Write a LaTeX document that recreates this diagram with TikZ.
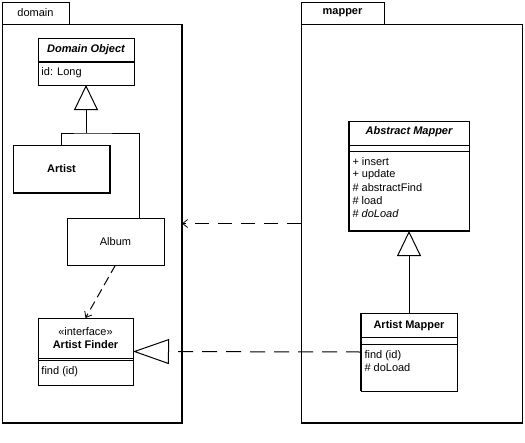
\documentclass[tikz,border=0pt]{standalone}
\usepackage{fontspec}
\setmainfont{Liberation Sans}
\usetikzlibrary{arrows.meta}
\begin{document}
\begin{tikzpicture}[x=1pt,y=-1pt,line width=1pt,
    box/.style={draw,fill=white,inner sep=0pt,outer sep=0pt,anchor=north west},
    txt/.style={font=\fontsize{11}{13}\selectfont,inner sep=0pt},
    clsname/.style={txt,font=\fontsize{11}{13}\selectfont\bfseries},
    absname/.style={txt,font=\fontsize{11}{13}\selectfont\bfseries\itshape},
    member/.style={txt,anchor=west},
    shadow/.style={line width=2pt},
    gen/.style={-{Triangle[open,length=25pt,width=24pt]}},
    real/.style={dash pattern=on 15pt off 9pt,-{Triangle[open,length=36pt,width=25pt]}},
    dep/.style={dash pattern=on 14pt off 9pt,-{Straight Barb[length=5pt,width=8pt,line width=0.8pt]}},
    usedep/.style={dash pattern=on 9pt off 5pt,-{Straight Barb[length=5pt,width=8pt,line width=0.8pt]}}]
    \fill[white] (0,0) rectangle (525,442);
    \useasboundingbox (0,0) rectangle (525,442);
    % packages
    \node[box,minimum width=67pt,minimum height=22pt] (domtab) at (2,2) {};
    \node[box,minimum width=180pt,minimum height=399pt] (dombody) at (2,24) {};
    \node[txt] at (domtab.center) {domain};
    \draw[shadow] (dombody.north east) -- (dombody.south east) -- (dombody.south west);
    \node[box,minimum width=83pt,minimum height=22pt] (maptab) at (301,2) {};
    \node[box,minimum width=221pt,minimum height=399pt] (mapbody) at (301,24) {};
    \node[clsname] at (maptab.center) {mapper};
    \draw[shadow] (mapbody.south east) -- (mapbody.south west);
    % domain classes
    \node[box,minimum width=96pt,minimum height=47pt] (domobj) at (38,38) {};
    \draw[shadow] ([yshift=-23.5pt]domobj.north west) -- ([yshift=-23.5pt]domobj.north east);
    \node[absname] at ([yshift=-12pt]domobj.north) {Domain Object};
    \node[member] at ([xshift=3pt,yshift=-35pt]domobj.north west) {id: Long};
    \node[box,minimum width=97pt,minimum height=48pt] (artist) at (13,145) {};
    \draw[shadow] (artist.north east) -- (artist.south east) -- (artist.south west);
    \node[clsname] at (artist.center) {Artist};
    \node[box,minimum width=97pt,minimum height=47pt] (album) at (67,218) {};
    \node[txt] at (album.center) {Album};
    \node[box,minimum width=95pt,minimum height=67pt] (finder) at (38,318) {};
    \node[txt] at ([yshift=-14pt]finder.north) {«interface»};
    \node[clsname] at ([yshift=-27pt]finder.north) {Artist Finder};
    \draw ([yshift=-40pt]finder.north west) -- ([yshift=-40pt]finder.north east);
    \draw ([yshift=-42pt]finder.north west) -- ([yshift=-42pt]finder.north east);
    \node[member] at ([xshift=3pt,yshift=-54pt]finder.north west) {find (id)};
    % mapper classes
    \node[box,minimum width=120pt,minimum height=110pt] (absmap) at (349,121) {};
    \draw[shadow] (absmap.north west) -- (absmap.south west) -- (absmap.south east);
    \node[absname] at ([yshift=-11pt]absmap.north) {Abstract Mapper};
    \draw ([yshift=-24pt]absmap.north west) -- ([yshift=-24pt]absmap.north east);
    \draw ([yshift=-30pt]absmap.north west) -- ([yshift=-30pt]absmap.north east);
    \node[member] at ([xshift=3pt,yshift=-41pt]absmap.north west) {+ insert};
    \node[member] at ([xshift=3pt,yshift=-54pt]absmap.north west) {+ update};
    \node[member] at ([xshift=3pt,yshift=-67pt]absmap.north west) {\# abstractFind};
    \node[member] at ([xshift=3pt,yshift=-80pt]absmap.north west) {\# load};
    \node[member] at ([xshift=3pt,yshift=-93pt]absmap.north west) {\# \textit{doLoad}};
    \node[box,minimum width=96pt,minimum height=78pt] (artmap) at (361,313) {};
    \draw[shadow] (artmap.north west) -- (artmap.south west);
    \node[clsname] at ([yshift=-13pt]artmap.north) {Artist Mapper};
    \draw ([yshift=-24pt]artmap.north west) -- ([yshift=-24pt]artmap.north east);
    \draw ([yshift=-31pt]artmap.north west) -- ([yshift=-31pt]artmap.north east);
    \node[member] at ([xshift=3pt,yshift=-43pt]artmap.north west) {find (id)};
    \node[member] at ([xshift=3pt,yshift=-55pt]artmap.north west) {\# doLoad};
    % relations
    \coordinate (join) at (86,133);
    \draw[gen] (join) -- (domobj.south);
    \draw (artist.north) |- (join) -| ([xshift=24pt]album.north);
    \draw[usedep] (album.south) -- (finder.north);
    \draw[gen] (artmap.north) -- (absmap.south);
    \draw[real] (artmap.west) -- (finder.east);
    \draw[dep] (mapbody.west) -- (dombody.east);
\end{tikzpicture}
\end{document}
